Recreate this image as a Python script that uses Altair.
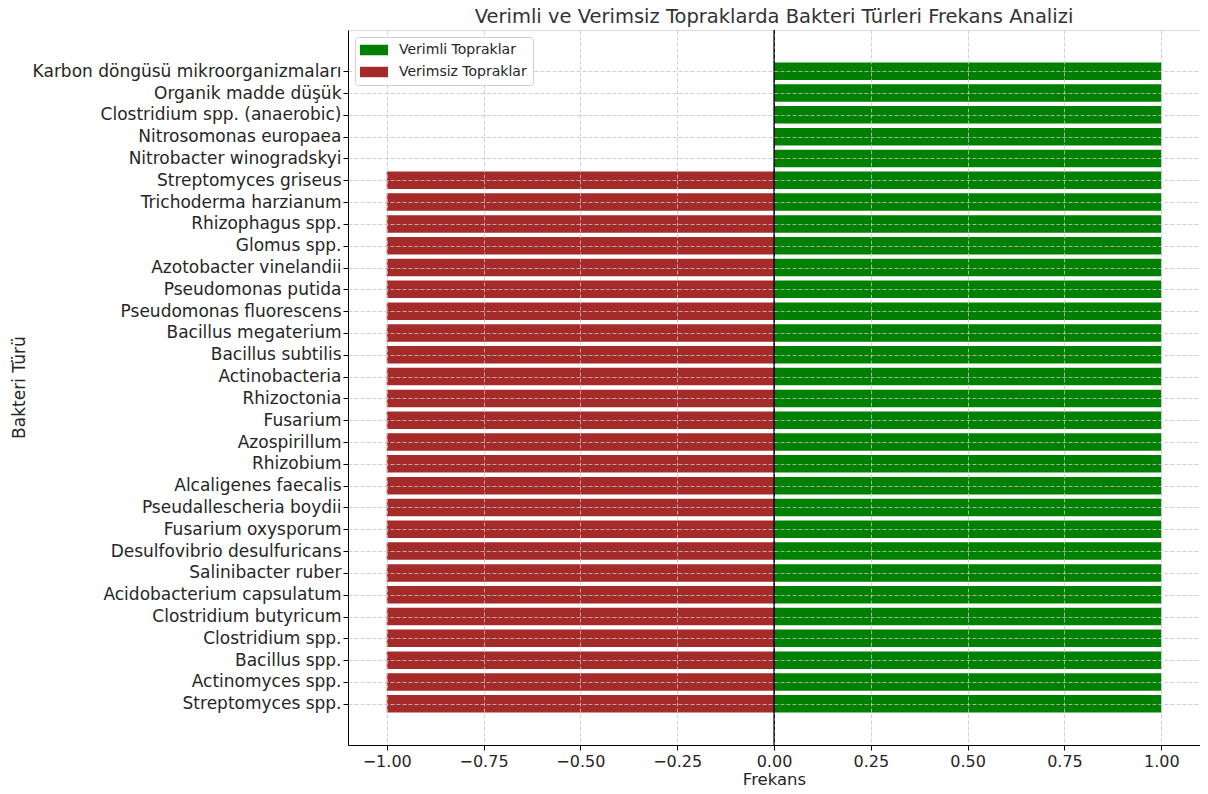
import altair as alt
import pandas as pd
import json

species = [
    "Karbon döngüsü mikroorganizmaları",
    "Organik madde düşük",
    "Clostridium spp. (anaerobic)",
    "Nitrosomonas europaea",
    "Nitrobacter winogradskyi",
    "Streptomyces griseus",
    "Trichoderma harzianum",
    "Rhizophagus spp.",
    "Glomus spp.",
    "Azotobacter vinelandii",
    "Pseudomonas putida",
    "Pseudomonas fluorescens",
    "Bacillus megaterium",
    "Bacillus subtilis",
    "Actinobacteria",
    "Rhizoctonia",
    "Fusarium",
    "Azospirillum",
    "Rhizobium",
    "Alcaligenes faecalis",
    "Pseudallescheria boydii",
    "Fusarium oxysporum",
    "Desulfovibrio desulfuricans",
    "Salinibacter ruber",
    "Acidobacterium capsulatum",
    "Clostridium butyricum",
    "Clostridium spp.",
    "Bacillus spp.",
    "Actinomyces spp.",
    "Streptomyces spp.",
]

fertile = [1] * 30
infertile = [None] * 5 + [-1] * 25

series_names = ["Verimli Topraklar", "Verimsiz Topraklar"]
colors = ["#008000", "#A52A2A"]
x_ticks = [-1.0, -0.75, -0.5, -0.25, 0.0, 0.25, 0.5, 0.75, 1.0]

n = len(species)
rows = []
for k, (s, f, i) in enumerate(zip(species, fertile, infertile)):
    idx = n - 1 - k  # bottom category at position 0 (like matplotlib barh)
    if f is not None:
        rows.append({"species": s, "pos": idx, "series": series_names[0], "value": f})
    if i is not None:
        rows.append({"species": s, "pos": idx, "series": series_names[1], "value": i})
df = pd.DataFrame(rows)

labels_bottom_up = list(reversed(species))
label_expr = json.dumps(labels_bottom_up, ensure_ascii=False) + "[round(datum.value)]"

FONT = "DejaVu Sans"
GRID = "#c4c4c4"
TXT = "#262626"

bars = alt.Chart(df).transform_calculate(
    y0="datum.pos - 0.4", y1="datum.pos + 0.4", x0="0"
).mark_bar(strokeWidth=0).encode(
    x=alt.X("value:Q",
            scale=alt.Scale(domain=[-1.1, 1.1], nice=False, zero=False),
            axis=alt.Axis(title="Frekans", values=x_ticks, format=".2f",
                          zindex=1, grid=True, gridDash=[4, 2],
                          gridColor={"condition": {"test": "datum.value === 0",
                                                   "value": "black"},
                                     "value": GRID},
                          gridWidth=0.8,
                          domainColor="black", tickColor="black",
                          tickSize=5, labelFontSize=16, titleFontSize=16.5,
                          labelColor=TXT, titleColor=TXT,
                          labelPadding=3, titlePadding=2, labelFlush=False,
                          titleFontWeight="normal", labelFont=FONT, titleFont=FONT)),
    x2="x0:Q",
    y=alt.Y("y0:Q",
            scale=alt.Scale(domain=[-1.89, 30.89], nice=False, zero=False),
            axis=alt.Axis(title="Bakteri Türü", zindex=1, grid=True,
                          values=list(range(n)), labelExpr=label_expr,
                          gridDash=[4, 2], gridColor=GRID, gridWidth=0.8,
                          domainColor="black", tickColor="black", tickSize=5,
                          labelFontSize=17, titleFontSize=17,
                          labelColor=TXT, titleColor=TXT,
                          labelPadding=2, titleFontWeight="normal",
                          labelFont=FONT, titleFont=FONT, labelFlush=False,
                          labelOverlap=False, labelLimit=500,
                          titleX=-329, titleY=357, titleAngle=-90,
                          titleAlign="center", titleBaseline="middle")),
    y2="y1:Q",
    color=alt.Color("series:N",
                    scale=alt.Scale(domain=series_names, range=colors),
                    legend=alt.Legend(title=None, orient="top-left",
                                      offset=7, padding=6, zindex=2,
                                      fillColor="white", strokeColor="#d0d0d0",
                                      cornerRadius=3,
                                      symbolType="M-2,-0.75L2,-0.75L2,0.75L-2,0.75Z",
                                      symbolSize=196, symbolStrokeWidth=0,
                                      symbolOpacity=1, symbolOffset=6,
                                      labelOffset=18,
                                      labelFontSize=14, labelFont=FONT,
                                      labelColor=TXT, rowPadding=8)),
)

zero_df = pd.DataFrame({"value": [0.0]})
zero_line = alt.Chart(zero_df).mark_rule(color="black", strokeWidth=1.2).encode(
    x="value:Q"
)

chart = alt.layer(bars, zero_line).properties(
    width=852,
    height=715,
    title=alt.TitleParams(
        "Verimli ve Verimsiz Topraklarda Bakteri Türleri Frekans Analizi",
        fontSize=19.5, font=FONT, fontWeight="normal", color="#333333",
        anchor="middle", offset=2),
    autosize=alt.AutoSizeParams(type="none"),
    padding={"left": 340, "top": 22, "right": 0, "bottom": 41},
).configure_view(strokeWidth=0).configure(background="white")

chart.save("out.html", embed_options={"renderer": "svg", "actions": False})
